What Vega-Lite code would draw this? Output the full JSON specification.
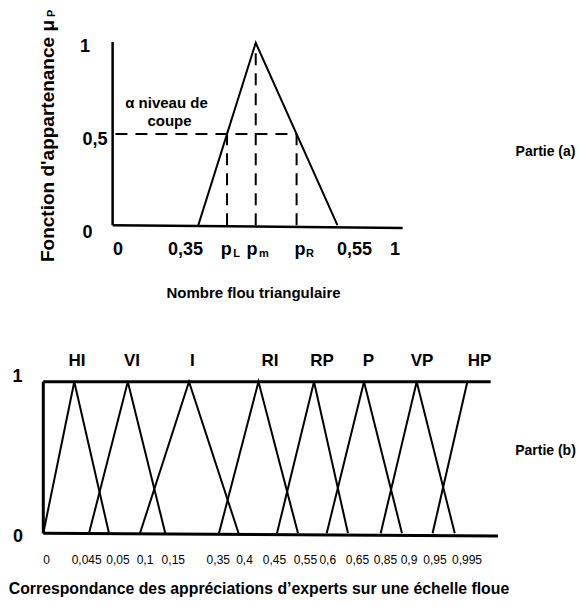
{
  "$schema": "https://vega.github.io/schema/vega-lite/v6.json",
  "width": 580,
  "height": 608,
  "autosize": "none",
  "padding": 0,
  "background": "white",
  "config": {"view": {"stroke": null}, "font": "Liberation Sans"},
  "datasets": {
    "a_cadre": [
      {"x": 0, "y": 0, "x2": 0, "y2": 1.005},
      {"x": 0, "y": 0, "x2": 1.03, "y2": -0.015}
    ],
    "a_triangle": [
      {"x": 0.3044, "mu": 0, "k": 1},
      {"x": 0.5083, "mu": 1, "k": 2},
      {"x": 0.7984, "mu": 0, "k": 3}
    ],
    "a_coupe": [
      {"x": 0.01, "y": 0.5, "x2": 0.6534, "y2": 0.5},
      {"x": 0.4064, "y": 0, "x2": 0.4064, "y2": 0.5},
      {"x": 0.5083, "y": 0, "x2": 0.5083, "y2": 1},
      {"x": 0.6534, "y": 0, "x2": 0.6534, "y2": 0.5}
    ],
    "a_textes": [
      {"text": "1", "x": -0.098, "y": 0.9514, "role": "graduation"},
      {"text": "0,5", "x": -0.0625, "y": 0.4399, "role": "graduation"},
      {"text": "0", "x": -0.0891, "y": -0.0721, "role": "graduation"},
      {"text": "0", "x": 0.0192, "y": -0.161, "role": "graduation"},
      {"text": "0,35", "x": 0.2589, "y": -0.161, "role": "graduation"},
      {"text": "p", "x": 0.4038, "y": -0.161, "role": "graduation"},
      {"text": "p", "x": 0.4951, "y": -0.161, "role": "graduation"},
      {"text": "p", "x": 0.6656, "y": -0.161, "role": "graduation"},
      {"text": "L", "x": 0.4401, "y": -0.175, "role": "indice"},
      {"text": "m", "x": 0.5377, "y": -0.175, "role": "indice"},
      {"text": "R", "x": 0.7011, "y": -0.175, "role": "indice"},
      {"text": "0,55", "x": 0.8592, "y": -0.161, "role": "graduation"},
      {"text": "1", "x": 1.003, "y": -0.161, "role": "graduation"},
      {"text": "α niveau de", "x": 0.1914, "y": 0.6426, "role": "note"},
      {"text": "coupe", "x": 0.2021, "y": 0.5437, "role": "note"},
      {"text": "Nombre flou triangulaire", "x": 0.5004, "y": -0.3996, "role": "titre"},
      {"text": "Partie (a)", "x": 1.5375, "y": 0.382, "role": "partie"}
    ],
    "a_titre_y": [
      {"text": "Fonction d'appartenance μ", "x": -0.2312, "y": 0.4615, "role": "titre_y"},
      {"text": "P", "x": -0.2163, "y": 1.162, "role": "indice_y"}
    ],
    "b_cadre": [
      {"x": 0, "y": 0, "x2": 0, "y2": 1},
      {"x": 0, "y": 1, "x2": 0.9942, "y2": 1},
      {"x": 0, "y": 0, "x2": 1.0104, "y2": -0.018}
    ],
    "b_termes": [
      {"term": "HI", "x": 0, "mu": 0, "k": 1},
      {"term": "HI", "x": 0.0689, "mu": 1, "k": 2},
      {"term": "HI", "x": 0.146, "mu": 0, "k": 3},
      {"term": "VI", "x": 0.1016, "mu": 0, "k": 1},
      {"term": "VI", "x": 0.1878, "mu": 1, "k": 2},
      {"term": "VI", "x": 0.2711, "mu": 0, "k": 3},
      {"term": "I", "x": 0.2149, "mu": 0, "k": 1},
      {"term": "I", "x": 0.3238, "mu": 1, "k": 2},
      {"term": "I", "x": 0.434, "mu": 0, "k": 3},
      {"term": "RI", "x": 0.3904, "mu": 0, "k": 1},
      {"term": "RI", "x": 0.4782, "mu": 1, "k": 2},
      {"term": "RI", "x": 0.566, "mu": 0, "k": 3},
      {"term": "RP", "x": 0.5193, "mu": 0, "k": 1},
      {"term": "RP", "x": 0.6016, "mu": 1, "k": 2},
      {"term": "RP", "x": 0.6771, "mu": 0, "k": 3},
      {"term": "P", "x": 0.6298, "mu": 0, "k": 1},
      {"term": "P", "x": 0.7127, "mu": 1, "k": 2},
      {"term": "P", "x": 0.7971, "mu": 0, "k": 3},
      {"term": "VP", "x": 0.7498, "mu": 0, "k": 1},
      {"term": "VP", "x": 0.8298, "mu": 1, "k": 2},
      {"term": "VP", "x": 0.9144, "mu": 0, "k": 3},
      {"term": "HP", "x": 0.8651, "mu": 0, "k": 1},
      {"term": "HP", "x": 0.9424, "mu": 1, "k": 2}
    ],
    "b_textes": [
      {"text": "HI", "x": 0.0749, "y": 1.1036, "role": "terme"},
      {"text": "VI", "x": 0.1971, "y": 1.1036, "role": "terme"},
      {"text": "I", "x": 0.3311, "y": 1.1036, "role": "terme"},
      {"text": "RI", "x": 0.5038, "y": 1.1036, "role": "terme"},
      {"text": "RP", "x": 0.6193, "y": 1.1036, "role": "terme"},
      {"text": "P", "x": 0.7227, "y": 1.1036, "role": "terme"},
      {"text": "VP", "x": 0.8416, "y": 1.1036, "role": "terme"},
      {"text": "HP", "x": 0.9696, "y": 1.1036, "role": "terme"},
      {"text": "1", "x": -0.0573, "y": 0.996, "role": "graduation"},
      {"text": "0", "x": -0.0562, "y": -0.0554, "role": "graduation"},
      {"text": "0", "x": 0.0076, "y": -0.2005, "role": "echelle"},
      {"text": "0,045", "x": 0.0964, "y": -0.2005, "role": "echelle"},
      {"text": "0,05", "x": 0.166, "y": -0.2005, "role": "echelle"},
      {"text": "0,1", "x": 0.226, "y": -0.2005, "role": "echelle"},
      {"text": "0,15", "x": 0.2889, "y": -0.2005, "role": "echelle"},
      {"text": "0,35", "x": 0.3889, "y": -0.2005, "role": "echelle"},
      {"text": "0,4", "x": 0.4471, "y": -0.2005, "role": "echelle"},
      {"text": "0,45", "x": 0.5138, "y": -0.2005, "role": "echelle"},
      {"text": "0,55", "x": 0.5827, "y": -0.2005, "role": "echelle"},
      {"text": "0,6", "x": 0.6322, "y": -0.2005, "role": "echelle"},
      {"text": "0,65", "x": 0.698, "y": -0.2005, "role": "echelle"},
      {"text": "0,85", "x": 0.7604, "y": -0.2005, "role": "echelle"},
      {"text": "0,9", "x": 0.8127, "y": -0.2005, "role": "echelle"},
      {"text": "0,95", "x": 0.8704, "y": -0.2005, "role": "echelle"},
      {"text": "0,995", "x": 0.9416, "y": -0.2005, "role": "echelle"},
      {"text": "Correspondance des appréciations d’experts sur une échelle floue", "x": 0.4793, "y": -0.4004, "role": "titre"},
      {"text": "Partie (b)", "x": 1.116, "y": 0.5165, "role": "partie"}
    ]
  },
  "layer": [
    {
      "layer": [
        {
          "data": {"name": "a_cadre"},
          "mark": {"type": "rule", "color": "black", "strokeWidth": 2.5},
          "encoding": {
            "x": {"field": "x", "type": "quantitative", "scale": {"domain": [-0.4, 1.66], "nice": false, "zero": false}, "axis": null},
            "x2": {"field": "x2"},
            "y": {"field": "y", "type": "quantitative", "scale": {"domain": [-2.1, 1.235], "nice": false, "zero": false}, "axis": null},
            "y2": {"field": "y2"}
          }
        },
        {
          "data": {"name": "a_triangle"},
          "mark": {"type": "line", "color": "black", "strokeWidth": 2},
          "encoding": {
            "x": {"field": "x", "type": "quantitative", "scale": {"domain": [-0.4, 1.66], "nice": false, "zero": false}, "axis": null},
            "y": {"field": "mu", "type": "quantitative", "scale": {"domain": [-2.1, 1.235], "nice": false, "zero": false}, "axis": null},
            "order": {"field": "k"}
          }
        },
        {
          "data": {"name": "a_coupe"},
          "mark": {"type": "rule", "color": "black", "strokeWidth": 2, "strokeDash": [12, 8]},
          "encoding": {
            "x": {"field": "x", "type": "quantitative", "scale": {"domain": [-0.4, 1.66], "nice": false, "zero": false}, "axis": null},
            "x2": {"field": "x2"},
            "y": {"field": "y", "type": "quantitative", "scale": {"domain": [-2.1, 1.235], "nice": false, "zero": false}, "axis": null},
            "y2": {"field": "y2"}
          }
        },
        {
          "data": {"name": "a_textes"},
          "transform": [{"filter": "datum.role === 'graduation'"}],
          "mark": {"type": "text", "fontSize": 18, "fontWeight": "bold", "align": "center", "baseline": "alphabetic", "color": "black"},
          "encoding": {
            "x": {"field": "x", "type": "quantitative", "scale": {"domain": [-0.4, 1.66], "nice": false, "zero": false}, "axis": null},
            "y": {"field": "y", "type": "quantitative", "scale": {"domain": [-2.1, 1.235], "nice": false, "zero": false}, "axis": null},
            "text": {"field": "text"}
          }
        },
        {
          "data": {"name": "a_textes"},
          "transform": [{"filter": "datum.role === 'indice'"}],
          "mark": {"type": "text", "fontSize": 11, "fontWeight": "bold", "align": "center", "baseline": "alphabetic", "color": "black"},
          "encoding": {
            "x": {"field": "x", "type": "quantitative", "scale": {"domain": [-0.4, 1.66], "nice": false, "zero": false}, "axis": null},
            "y": {"field": "y", "type": "quantitative", "scale": {"domain": [-2.1, 1.235], "nice": false, "zero": false}, "axis": null},
            "text": {"field": "text"}
          }
        },
        {
          "data": {"name": "a_textes"},
          "transform": [{"filter": "datum.role === 'note' || datum.role === 'titre'"}],
          "mark": {"type": "text", "fontSize": 15, "fontWeight": "bold", "align": "center", "baseline": "alphabetic", "color": "black"},
          "encoding": {
            "x": {"field": "x", "type": "quantitative", "scale": {"domain": [-0.4, 1.66], "nice": false, "zero": false}, "axis": null},
            "y": {"field": "y", "type": "quantitative", "scale": {"domain": [-2.1, 1.235], "nice": false, "zero": false}, "axis": null},
            "text": {"field": "text"}
          }
        },
        {
          "data": {"name": "a_textes"},
          "transform": [{"filter": "datum.role === 'partie'"}],
          "mark": {"type": "text", "fontSize": 14, "fontWeight": "bold", "align": "center", "baseline": "alphabetic", "color": "black"},
          "encoding": {
            "x": {"field": "x", "type": "quantitative", "scale": {"domain": [-0.4, 1.66], "nice": false, "zero": false}, "axis": null},
            "y": {"field": "y", "type": "quantitative", "scale": {"domain": [-2.1, 1.235], "nice": false, "zero": false}, "axis": null},
            "text": {"field": "text"}
          }
        },
        {
          "data": {"name": "a_titre_y"},
          "transform": [{"filter": "datum.role === 'titre_y'"}],
          "mark": {"type": "text", "fontSize": 19, "fontWeight": "bold", "align": "center", "baseline": "middle", "angle": 270, "color": "black"},
          "encoding": {
            "x": {"field": "x", "type": "quantitative", "scale": {"domain": [-0.4, 1.66], "nice": false, "zero": false}, "axis": null},
            "y": {"field": "y", "type": "quantitative", "scale": {"domain": [-2.1, 1.235], "nice": false, "zero": false}, "axis": null},
            "text": {"field": "text"}
          }
        },
        {
          "data": {"name": "a_titre_y"},
          "transform": [{"filter": "datum.role === 'indice_y'"}],
          "mark": {"type": "text", "fontSize": 11, "fontWeight": "bold", "align": "center", "baseline": "middle", "angle": 270, "color": "black"},
          "encoding": {
            "x": {"field": "x", "type": "quantitative", "scale": {"domain": [-0.4, 1.66], "nice": false, "zero": false}, "axis": null},
            "y": {"field": "y", "type": "quantitative", "scale": {"domain": [-2.1, 1.235], "nice": false, "zero": false}, "axis": null},
            "text": {"field": "text"}
          }
        }
      ]
    },
    {
      "layer": [
        {
          "data": {"name": "b_cadre"},
          "mark": {"type": "rule", "color": "black", "strokeWidth": 3},
          "encoding": {
            "x": {"field": "x", "type": "quantitative", "scale": {"domain": [-0.0962, 1.1927], "nice": false, "zero": false}, "axis": null},
            "x2": {"field": "x2"},
            "y": {"field": "y", "type": "quantitative", "scale": {"domain": [-0.4927, 3.5179], "nice": false, "zero": false}, "axis": null},
            "y2": {"field": "y2"}
          }
        },
        {
          "data": {"name": "b_termes"},
          "mark": {"type": "line", "color": "black", "strokeWidth": 2},
          "encoding": {
            "x": {"field": "x", "type": "quantitative", "scale": {"domain": [-0.0962, 1.1927], "nice": false, "zero": false}, "axis": null},
            "y": {"field": "mu", "type": "quantitative", "scale": {"domain": [-0.4927, 3.5179], "nice": false, "zero": false}, "axis": null},
            "detail": {"field": "term"},
            "order": {"field": "k"}
          }
        },
        {
          "data": {"name": "b_textes"},
          "transform": [{"filter": "datum.role === 'terme'"}],
          "mark": {"type": "text", "fontSize": 17, "fontWeight": "bold", "align": "center", "baseline": "alphabetic", "color": "black"},
          "encoding": {
            "x": {"field": "x", "type": "quantitative", "scale": {"domain": [-0.0962, 1.1927], "nice": false, "zero": false}, "axis": null},
            "y": {"field": "y", "type": "quantitative", "scale": {"domain": [-0.4927, 3.5179], "nice": false, "zero": false}, "axis": null},
            "text": {"field": "text"}
          }
        },
        {
          "data": {"name": "b_textes"},
          "transform": [{"filter": "datum.role === 'graduation'"}],
          "mark": {"type": "text", "fontSize": 18, "fontWeight": "bold", "align": "center", "baseline": "alphabetic", "color": "black"},
          "encoding": {
            "x": {"field": "x", "type": "quantitative", "scale": {"domain": [-0.0962, 1.1927], "nice": false, "zero": false}, "axis": null},
            "y": {"field": "y", "type": "quantitative", "scale": {"domain": [-0.4927, 3.5179], "nice": false, "zero": false}, "axis": null},
            "text": {"field": "text"}
          }
        },
        {
          "data": {"name": "b_textes"},
          "transform": [{"filter": "datum.role === 'echelle'"}],
          "mark": {"type": "text", "fontSize": 12, "align": "center", "baseline": "alphabetic", "color": "black"},
          "encoding": {
            "x": {"field": "x", "type": "quantitative", "scale": {"domain": [-0.0962, 1.1927], "nice": false, "zero": false}, "axis": null},
            "y": {"field": "y", "type": "quantitative", "scale": {"domain": [-0.4927, 3.5179], "nice": false, "zero": false}, "axis": null},
            "text": {"field": "text"}
          }
        },
        {
          "data": {"name": "b_textes"},
          "transform": [{"filter": "datum.role === 'titre'"}],
          "mark": {"type": "text", "fontSize": 15.8, "fontWeight": "bold", "align": "center", "baseline": "alphabetic", "color": "black"},
          "encoding": {
            "x": {"field": "x", "type": "quantitative", "scale": {"domain": [-0.0962, 1.1927], "nice": false, "zero": false}, "axis": null},
            "y": {"field": "y", "type": "quantitative", "scale": {"domain": [-0.4927, 3.5179], "nice": false, "zero": false}, "axis": null},
            "text": {"field": "text"}
          }
        },
        {
          "data": {"name": "b_textes"},
          "transform": [{"filter": "datum.role === 'partie'"}],
          "mark": {"type": "text", "fontSize": 14, "fontWeight": "bold", "align": "center", "baseline": "alphabetic", "color": "black"},
          "encoding": {
            "x": {"field": "x", "type": "quantitative", "scale": {"domain": [-0.0962, 1.1927], "nice": false, "zero": false}, "axis": null},
            "y": {"field": "y", "type": "quantitative", "scale": {"domain": [-0.4927, 3.5179], "nice": false, "zero": false}, "axis": null},
            "text": {"field": "text"}
          }
        }
      ]
    }
  ],
  "resolve": {"scale": {"x": "independent", "y": "independent"}}
}
